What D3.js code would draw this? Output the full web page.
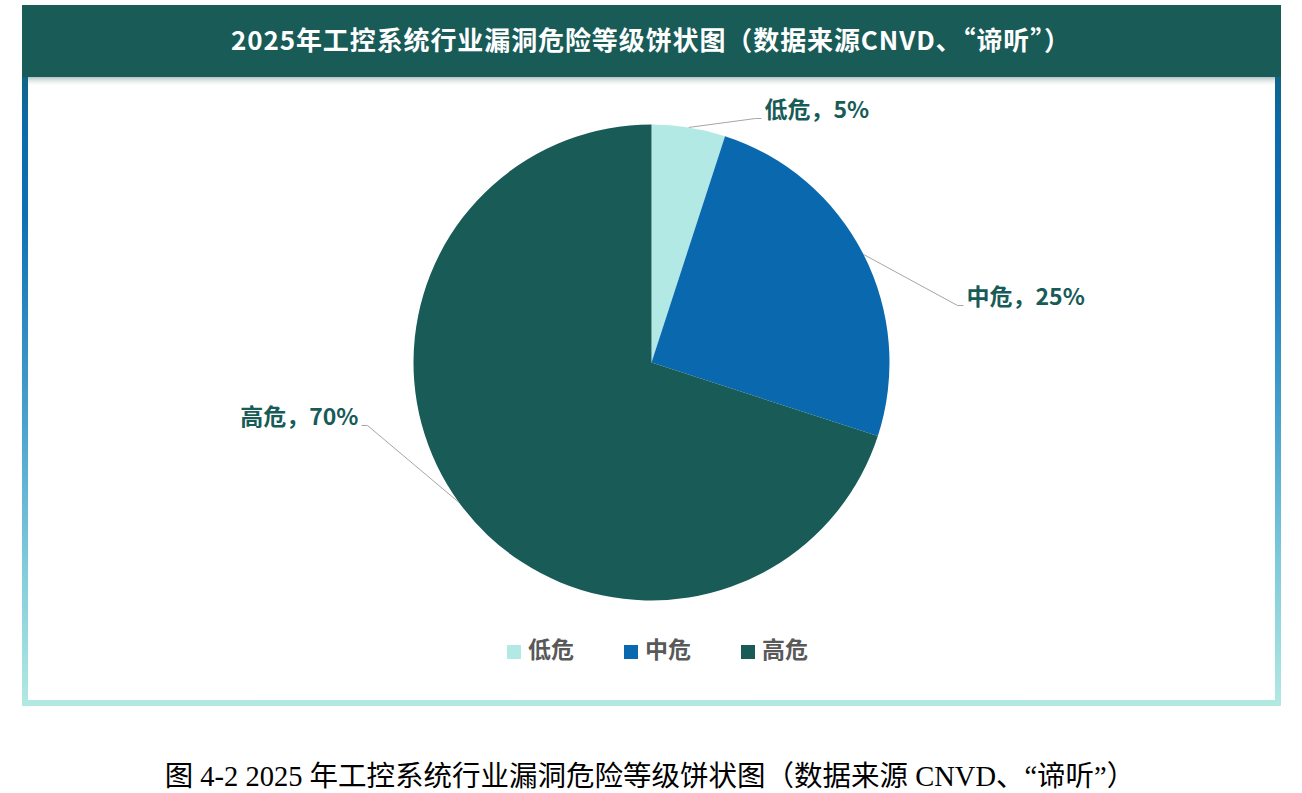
<!DOCTYPE html>
<html>
<head>
<meta charset="utf-8">
<script src="https://cdn.jsdelivr.net/npm/d3@7/dist/d3.min.js"></script>
<style>
  html, body { margin: 0; padding: 0; background: #ffffff; overflow: hidden; }
  svg { display: block; }
</style>
</head>
<body>
<svg id="chart" width="1302" height="793"></svg>
<script>
// ---- data ----
const categories = ["低危", "中危", "高危"];
const values = [5, 25, 70];
const colors = ["#b2e9e5", "#0a69ae", "#185b57"];
const titleText = "2025年工控系统行业漏洞危险等级饼状图（数据来源CNVD、“谛听”）";
const captionText = "图 4-2 2025 年工控系统行业漏洞危险等级饼状图（数据来源 CNVD、“谛听”）";

const svg = d3.select("#chart");
const defs = svg.append("defs");

// border gradient (vertical)
const bg = defs.append("linearGradient").attr("id", "borderGrad")
  .attr("x1", 0).attr("y1", 0).attr("x2", 0).attr("y2", 1);
[[0, "#185b57"], [0.17, "#0b6aa9"], [0.3, "#0f6fb4"], [0.6, "#4aa3cf"], [0.8, "#80cbdb"], [1, "#b2e9e2"]]
  .forEach(([o, c]) => bg.append("stop").attr("offset", o).attr("stop-color", c));

// header shadow gradient
const sg = defs.append("linearGradient").attr("id", "shadowGrad")
  .attr("x1", 0).attr("y1", 0).attr("x2", 0).attr("y2", 1);
sg.append("stop").attr("offset", 0).attr("stop-color", "#9fb3b2").attr("stop-opacity", 0.8);
sg.append("stop").attr("offset", 1).attr("stop-color", "#ffffff").attr("stop-opacity", 0);

const frame = { left: 22, right: 1281, top: 5, headerBottom: 77, bottom: 706, bw: 6 };

// frame borders
svg.append("rect").attr("x", frame.left).attr("y", frame.top)
  .attr("width", frame.right - frame.left).attr("height", frame.bottom - frame.top)
  .attr("fill", "url(#borderGrad)");
svg.append("rect").attr("x", frame.left + frame.bw).attr("y", frame.headerBottom)
  .attr("width", frame.right - frame.left - 2 * frame.bw)
  .attr("height", frame.bottom - frame.bw - frame.headerBottom)
  .attr("fill", "#ffffff");
// shadow below header
svg.append("rect").attr("x", frame.left + frame.bw).attr("y", frame.headerBottom)
  .attr("width", frame.right - frame.left - 2 * frame.bw).attr("height", 10)
  .attr("fill", "url(#shadowGrad)");
// header
svg.append("rect").attr("x", frame.left).attr("y", frame.top)
  .attr("width", frame.right - frame.left).attr("height", frame.headerBottom - frame.top)
  .attr("fill", "#185b57");
svg.append("text").attr("x", 651).attr("y", 43)
  .attr("text-anchor", "middle").attr("dominant-baseline", "middle")
  .attr("font-family", "'Noto Sans CJK SC', 'Noto Sans', sans-serif")
  .attr("font-weight", "bold").attr("font-size", 26).attr("letter-spacing", 0.9)
  .attr("fill", "#ffffff")
  .text(titleText);

// ---- pie ----
const cx = 651.5, cy = 362.5, r = 238;
const pie = d3.pie().sort(null).value(d => d)(values);
const arc = d3.arc().innerRadius(0).outerRadius(r);
const g = svg.append("g").attr("transform", `translate(${cx},${cy})`);
g.selectAll("path.slice").data(pie).join("path")
  .attr("class", "slice")
  .attr("d", arc)
  .attr("fill", (d, i) => colors[i]);

// label layout (elbow end points relative to center, text side)
const labelEnds = [
  { ex: 104, ey: -244, side: 1 },
  { ex: 306, ey: -57, side: 1 },
  { ex: -284, ey: 63, side: -1 }
];
pie.forEach((d, i) => {
  const mid = (d.startAngle + d.endAngle) / 2;
  const sx = Math.sin(mid) * r, sy = -Math.cos(mid) * r;
  const L = labelEnds[i];
  const hx = L.ex + L.side * 6;
  g.append("polyline")
    .attr("points", [[sx, sy], [L.ex, L.ey], [hx, L.ey]].map(p => p.join(",")).join(" "))
    .attr("fill", "none").attr("stroke", "#a6a6a6").attr("stroke-width", 1);
  g.append("text")
    .attr("x", hx + L.side * 3).attr("y", L.ey - 7)
    .attr("text-anchor", L.side > 0 ? "start" : "end")
    .attr("dominant-baseline", "middle")
    .attr("font-family", "'Noto Sans CJK SC', 'Noto Sans', sans-serif")
    .attr("font-weight", "bold").attr("font-size", 23).attr("fill", "#185b57")
    .text(`${categories[i]}，${d.data}%`);
});

// ---- legend ----
const legendX = d3.scaleOrdinal().domain(categories).range([507, 624, 741]);
const lg = svg.append("g");
categories.forEach((c, i) => {
  const x = legendX(c);
  lg.append("rect").attr("x", x).attr("y", 645).attr("width", 14).attr("height", 14)
    .attr("fill", colors[i]);
  lg.append("text").attr("x", x + 21).attr("y", 652)
    .attr("dominant-baseline", "middle")
    .attr("font-family", "'Noto Sans CJK SC', 'Noto Sans', sans-serif")
    .attr("font-weight", "bold").attr("font-size", 23).attr("fill", "#595959")
    .text(c);
});

// ---- caption ----
svg.append("text").attr("x", 650).attr("y", 786)
  .attr("text-anchor", "middle")
  .attr("font-family", "'Liberation Serif', 'Noto Sans CJK SC', serif")
  .attr("font-size", 28.5).attr("fill", "#000000")
  .text(captionText);
</script>
</body>
</html>
